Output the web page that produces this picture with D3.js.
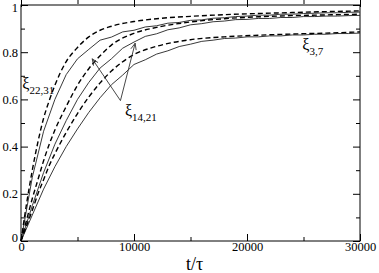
<!DOCTYPE html>
<html>
<head>
<meta charset="utf-8">
<script src="https://cdn.jsdelivr.net/npm/d3@7"></script>
<style>
  body { margin: 0; background: #fff; }
  #chart text { font-family: "Liberation Serif", "Times New Roman", Times, serif !important; }
</style>
</head>
<body>
<svg id="chart" width="379" height="273"></svg>
<script>
// times for the smooth (dashed) fits
var tFit = [0, 500, 1000, 1500, 2000, 2500, 3000, 4000, 5000, 6000, 7000, 8000,
            10000, 12000, 15000, 18000, 21000, 24000, 27000, 30000];
var fit2231 = [0, 0.16, 0.30, 0.42, 0.52, 0.595, 0.66, 0.76, 0.82, 0.865, 0.893, 0.91,
               0.93, 0.942, 0.952, 0.959, 0.964, 0.968, 0.972, 0.975];
var fit1421 = [0, 0.09, 0.18, 0.26, 0.34, 0.41, 0.47, 0.57, 0.66, 0.73, 0.785, 0.83,
               0.88, 0.905, 0.928, 0.942, 0.95, 0.955, 0.958, 0.961];
var fit37   = [0, 0.065, 0.13, 0.20, 0.26, 0.32, 0.37, 0.46, 0.54, 0.61, 0.67, 0.72,
               0.79, 0.825, 0.853, 0.865, 0.872, 0.877, 0.881, 0.886];

// times for the simulated (solid) curves
var tSim = [0, 1000, 2000, 3000, 4000, 5000, 6000, 7000, 8000, 9000, 10000, 11000,
            12000, 13000, 14000, 15000, 16000, 17000, 18000, 19000, 20000, 21000,
            22000, 23000, 24000, 25000, 26000, 27000, 28000, 29000, 30000];
var sim2231 = [0, 0.27, 0.465, 0.60, 0.705, 0.772, 0.812, 0.851, 0.864, 0.886, 0.893, 0.907,
               0.912, 0.923, 0.926, 0.935, 0.937, 0.944, 0.946, 0.951, 0.953, 0.957,
               0.957, 0.961, 0.961, 0.964, 0.965, 0.967, 0.967, 0.969, 0.970];
var sim1421 = [0, 0.15, 0.29, 0.41, 0.51, 0.60, 0.672, 0.733, 0.772, 0.817, 0.843, 0.867,
               0.878, 0.895, 0.903, 0.916, 0.921, 0.929, 0.932, 0.938, 0.939, 0.943,
               0.943, 0.947, 0.947, 0.951, 0.951, 0.953, 0.953, 0.955, 0.956];
var sim37   = [0, 0.11, 0.22, 0.315, 0.40, 0.475, 0.545, 0.607, 0.662, 0.703, 0.748, 0.768,
               0.792, 0.806, 0.824, 0.834, 0.846, 0.851, 0.858, 0.860, 0.865, 0.865,
               0.869, 0.869, 0.873, 0.873, 0.876, 0.876, 0.879, 0.879, 0.881];

var xMajor = [0, 10000, 20000, 30000];
var xMinor = [5000, 15000, 25000];
var yMajor = [0, 0.2, 0.4, 0.6, 0.8, 1];
var yMinor = [0.1, 0.3, 0.5, 0.7, 0.9];

// labels: [t, value, main, subscript]
var labels = [
  [110, 0.645, "ξ", "22,31"],
  [9200, 0.53, "ξ", "14,21"],
  [24900, 0.81, "ξ", "3,7"]
];
// arrows for the 14,21 label: from [t, v] to [t, v]
var arrows = [
  [[8800, 0.595], [6300, 0.772]],
  [[8800, 0.595], [10100, 0.838]]
];

var svg = d3.select("#chart");
var margin = { left: 21, right: 19, top: 5, bottom: 32 };
var W = 379, H = 273;
var x = d3.scaleLinear().domain([0, 30000]).range([margin.left, W - margin.right]);
var y = d3.scaleLinear().domain([0, 1]).range([H - margin.bottom, margin.top]);

var g = svg.append("g");

// inward ticks: negative size for bottom/left, handled by sign for top/right
function tickAxis(axis, vals, size, tr, showLabels) {
  var a = axis.tickValues(vals).tickSizeInner(-size).tickSizeOuter(0).tickPadding(4);
  if (!showLabels) a.tickFormat("");
  var sel = g.append("g").attr("transform", tr).call(a);
  sel.select(".domain").remove();
  sel.selectAll("line").attr("stroke", "#000").attr("stroke-width", 1);
  sel.selectAll("text").attr("fill", "#000");
  return sel;
}
var bot = "translate(0," + y(0) + ")", top = "translate(0," + y(1) + ")";
var lft = "translate(" + x(0) + ",0)", rgt = "translate(" + x(30000) + ",0)";

var xb = tickAxis(d3.axisBottom(x).tickFormat(d3.format("d")), xMajor, 7, bot, true);
xb.selectAll("text").attr("font-size", 12.5).attr("dy", "0.5em");
tickAxis(d3.axisBottom(x), xMinor, 4, bot, false);
tickAxis(d3.axisTop(x), xMajor, 7, top, false);
tickAxis(d3.axisTop(x), xMinor, 4, top, false);
var yl = tickAxis(d3.axisLeft(y).tickFormat(function(d){ return d === 0 ? "0" : d === 1 ? "1" : d3.format(".1f")(d); }), yMajor, 7, lft, true);
yl.selectAll("text").attr("font-size", 12.5).attr("dx", "1px");
yl.selectAll(".tick").filter(function(d){ return d === 0; }).select("text").attr("dy", "0.05em");
yl.selectAll(".tick").filter(function(d){ return d === 1; }).select("text").attr("dy", "0.5em");
tickAxis(d3.axisLeft(y), yMinor, 4, lft, false);
tickAxis(d3.axisRight(y), yMajor, 7, rgt, false);
tickAxis(d3.axisRight(y), yMinor, 4, rgt, false);

// frame
g.append("rect")
  .attr("x", x(0)).attr("y", y(1))
  .attr("width", x(30000) - x(0)).attr("height", y(0) - y(1))
  .attr("fill", "none").attr("stroke", "#000").attr("stroke-width", 1);

var line = d3.line().x(function(d){ return x(d[0]); }).y(function(d){ return y(d[1]); });
var curveLine = d3.line().curve(d3.curveMonotoneX).x(function(d){ return x(d[0]); }).y(function(d){ return y(d[1]); });

[sim2231, sim1421, sim37].forEach(function(s) {
  g.append("path").datum(d3.zip(tSim, s)).attr("d", line)
    .attr("fill", "none").attr("stroke", "#222").attr("stroke-width", 0.9);
});
[fit2231, fit1421, fit37].forEach(function(s) {
  g.append("path").datum(d3.zip(tFit, s)).attr("d", curveLine)
    .attr("fill", "none").attr("stroke", "#000").attr("stroke-width", 1.4)
    .attr("stroke-dasharray", "5,3");
});

// arrows
arrows.forEach(function(a) {
  var x1 = x(a[0][0]), y1 = y(a[0][1]), x2 = x(a[1][0]), y2 = y(a[1][1]);
  g.append("line").attr("x1", x1).attr("y1", y1).attr("x2", x2).attr("y2", y2)
    .attr("stroke", "#333").attr("stroke-width", 0.9);
  var ang = Math.atan2(y2 - y1, x2 - x1), len = 7, spread = 0.4;
  [ang + Math.PI - spread, ang + Math.PI + spread].forEach(function(b) {
    g.append("line").attr("x1", x2).attr("y1", y2)
      .attr("x2", x2 + len * Math.cos(b)).attr("y2", y2 + len * Math.sin(b))
      .attr("stroke", "#333").attr("stroke-width", 0.9);
  });
});

// labels
labels.forEach(function(l) {
  var t = g.append("text").attr("x", x(l[0])).attr("y", y(l[1])).attr("font-size", 16);
  t.append("tspan").text(l[2]);
  t.append("tspan").attr("font-size", 11).attr("dy", 5).text(l[3]);
});

// axis title
g.append("text").attr("x", (x(0) + x(30000)) / 2 + 4).attr("y", 270)
  .attr("text-anchor", "middle").attr("font-size", 18).text("t/τ");
</script>
</body>
</html>
